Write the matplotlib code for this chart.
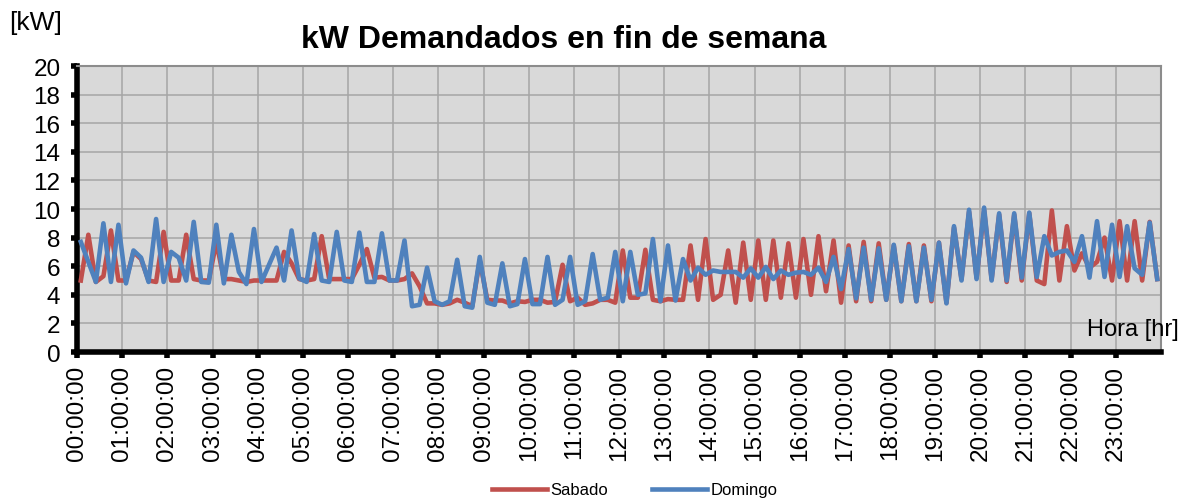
import numpy as np
import matplotlib
matplotlib.use("Agg")
import matplotlib.pyplot as plt

plt.rcParams['font.family'] = ['Liberation Sans', 'DejaVu Sans']

# 10-minute readings, 00:00 .. 23:50
sabado = [5.0, 8.2, 4.9, 5.3, 8.5, 5.0, 5.0, 7.0, 6.5, 5.0, 4.9, 8.4,
          5.0, 5.0, 8.2, 5.1, 5.0, 5.0, 7.7, 5.1, 5.1, 5.0, 4.9, 5.0,
          5.0, 5.0, 5.0, 7.0, 6.2, 5.1, 5.0, 5.1, 8.1, 5.1, 5.1, 5.1,
          5.1, 6.1, 7.2, 5.2, 5.25, 5.0, 5.0, 5.1, 5.5, 4.6, 3.4, 3.4,
          3.3, 3.4, 3.65, 3.45, 3.2, 6.4, 3.65, 3.6, 3.6, 3.4, 3.55, 3.5,
          3.65, 3.65, 3.45, 3.5, 6.1, 3.55, 3.8, 3.3, 3.4, 3.65, 3.65, 3.45,
          7.1, 3.8, 3.8, 7.15, 3.65, 3.55, 3.7, 3.65, 3.65, 7.45, 3.65, 7.9,
          3.65, 4.0, 7.1, 3.45, 7.65, 3.65, 7.8, 3.65, 7.8, 3.8, 7.6, 3.8,
          7.9, 4.0, 8.1, 4.25, 7.8, 3.45, 7.45, 3.55, 7.7, 3.55, 7.6, 3.65,
          7.45, 3.55, 7.55, 3.55, 7.45, 3.55, 7.65, 3.45, 8.7, 5.1, 9.8, 5.2,
          9.9, 5.1, 9.6, 4.9, 9.6, 5.0, 9.7, 5.0, 4.75, 9.9, 5.0, 8.8,
          5.7, 6.9, 5.9, 6.3, 8.0, 5.0, 9.15, 5.0, 9.15, 5.0, 9.1, 5.1]

domingo = [7.7, 6.3, 4.9, 9.0, 4.9, 8.9, 4.8, 7.1, 6.6, 4.9, 9.3, 4.9,
           7.0, 6.6, 5.0, 9.1, 4.9, 4.85, 8.9, 4.8, 8.2, 5.6, 4.75, 8.6,
           4.9, 6.1, 7.3, 5.0, 8.5, 5.15, 4.9, 8.25, 5.0, 4.9, 8.4, 5.0,
           4.9, 8.35, 4.9, 4.9, 8.3, 5.0, 5.0, 7.8, 3.2, 3.3, 5.9, 3.55,
           3.3, 3.55, 6.45, 3.2, 3.1, 6.65, 3.45, 3.3, 6.2, 3.2, 3.35, 6.5,
           3.35, 3.35, 6.65, 3.3, 3.65, 6.65, 3.3, 3.55, 6.85, 3.65, 3.8, 7.0,
           3.55, 7.0, 4.0, 4.1, 7.9, 3.55, 7.45, 3.6, 6.5, 5.0, 5.9, 5.4,
           5.7, 5.6, 5.6, 5.6, 5.2, 5.85, 5.2, 5.95, 5.1, 5.7, 5.4, 5.55,
           5.6, 5.4, 5.9, 4.9, 6.65, 4.4, 7.2, 3.75, 7.3, 3.65, 7.25, 3.65,
           7.5, 3.55, 7.4, 3.55, 7.3, 3.65, 7.65, 3.4, 8.8, 5.0, 9.95, 5.1,
           10.1, 5.0, 9.7, 5.0, 9.7, 5.2, 9.75, 5.25, 8.1, 6.75, 7.0, 7.1,
           6.3, 8.1, 5.2, 9.15, 5.25, 8.9, 5.25, 8.8, 5.85, 5.4, 9.05, 5.1]

hour_labels = ["%02d:00:00" % h for h in range(24)]

x = np.arange(len(sabado)) + 0.5

fig = plt.figure(figsize=(11.91, 5.02), dpi=100)
ax = fig.add_axes([0.0647, 0.2968, 0.9101, 0.5697])
ax.set_facecolor("#D9D9D9")

ax.plot(x, sabado, color="#C0504D", lw=3.3, label="Sabado", solid_joinstyle="round", zorder=3)
ax.plot(x, domingo, color="#4F81BD", lw=3.3, label="Domingo", solid_joinstyle="round", zorder=4)

ax.set_xlim(0, 144)
ax.set_ylim(0, 20)
ax.set_yticks(np.arange(0, 21, 2))
ax.set_xticks(np.arange(0, 144, 6))
ax.set_xticklabels(hour_labels, rotation=90)
ax.grid(True, color="#A6A6A6", lw=1.1, zorder=1)
ax.set_axisbelow(True)

for s in ["left", "bottom"]:
    ax.spines[s].set_linewidth(4)
    ax.spines[s].set_color("black")
for s in ["top", "right"]:
    ax.spines[s].set_linewidth(1.5)
    ax.spines[s].set_color("#8C8C8C")

ax.tick_params(axis="both", which="major", direction="out", length=4, width=4,
               color="black", labelsize=17.5)
ax.tick_params(axis="y", pad=8)
ax.tick_params(axis="x", pad=5)

fig.text(0.473, 0.92, "kW Demandados en fin de semana", ha="center", va="center",
         fontsize=23, fontweight="bold")
fig.text(0.008, 0.955, "[kW]", ha="left", va="center", fontsize=19)
fig.text(0.951, 0.343, "Hora [hr]", ha="center", va="center", fontsize=17)

fig.legend(loc="center", bbox_to_anchor=(0.533, 0.022), ncol=2, frameon=False,
           fontsize=12, handlelength=3.3, columnspacing=2.6, handletextpad=0.2)

fig.savefig("out.png", dpi=100)
